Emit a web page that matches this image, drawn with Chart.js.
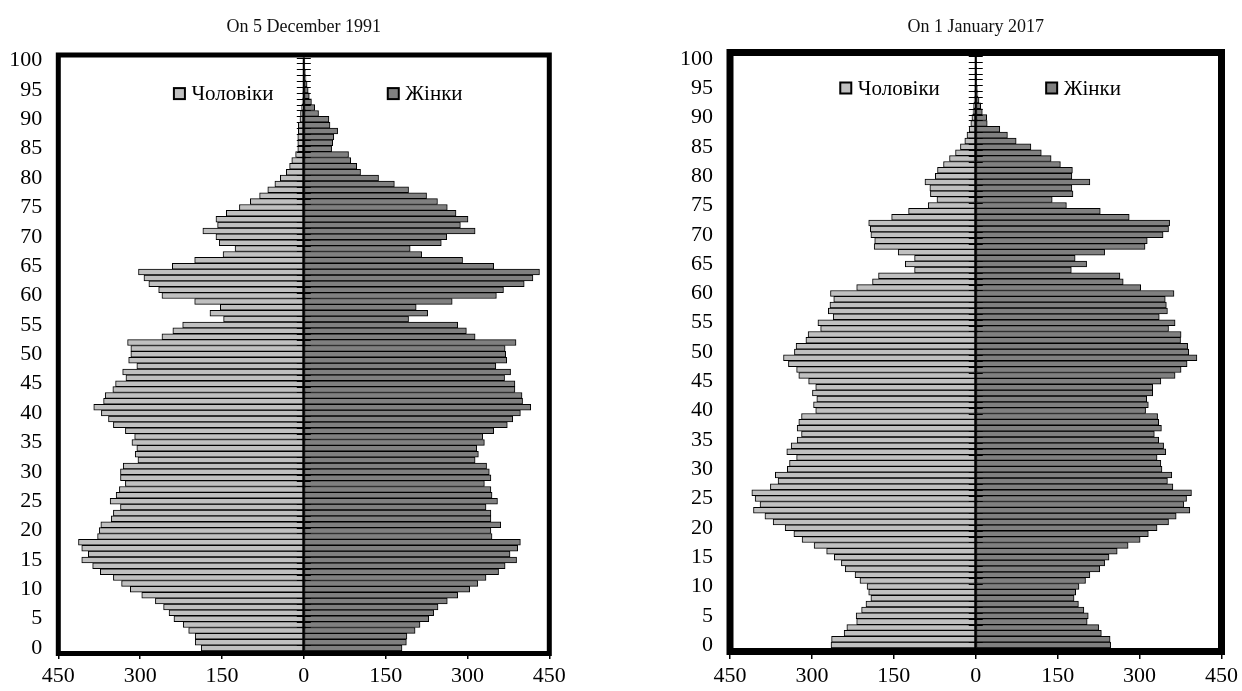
<!DOCTYPE html>
<html>
<head>
<meta charset="utf-8">
<script src="https://cdn.jsdelivr.net/npm/chart.js@4/dist/chart.umd.min.js"></script>
<style>
    html, body { margin: 0; padding: 0; background: #fff; }
    .wrap { position: absolute; top: 0; width: 621px; height: 691px; }
</style>
</head>
<body>
<div class="wrap" style="left:0"><canvas id="pyr1991"></canvas></div>
<div class="wrap" style="left:621px"><canvas id="pyr2017"></canvas></div>
<script>
'use strict';

// age groups, bottom to top
const ages = [0, 1, 2, 3, 4, 5, 6, 7, 8, 9, 10, 11, 12, 13, 14, 15, 16, 17, 18, 19,
    20, 21, 22, 23, 24, 25, 26, 27, 28, 29, 30, 31, 32, 33, 34, 35, 36, 37, 38, 39,
    40, 41, 42, 43, 44, 45, 46, 47, 48, 49, 50, 51, 52, 53, 54, 55, 56, 57, 58, 59,
    60, 61, 62, 63, 64, 65, 66, 67, 68, 69, 70, 71, 72, 73, 74, 75, 76, 77, 78, 79,
    80, 81, 82, 83, 84, 85, 86, 87, 88, 89, 90, 91, 92, 93, 94, 95, 96, 97, 98, 99, 100];
const ageTickLabels = ['0', '5', '10', '15', '20', '25', '30', '35', '40', '45', '50',
    '55', '60', '65', '70', '75', '80', '85', '90', '95', '100'];
const xTickValues = [-450, -300, -150, 0, 150, 300, 450];

// thousands of persons, census 5 December 1991
const men1991 = [188, 199, 199, 211, 221, 238, 247, 257, 272, 297,
    318, 334, 349, 373, 387, 407, 395, 407, 413, 378,
    375, 372, 353, 349, 336, 355, 344, 338, 327, 336,
    336, 331, 304, 309, 306, 315, 310, 327, 349, 358,
    371, 385, 367, 364, 350, 345, 326, 332, 306, 321,
    317, 317, 323, 260, 240, 222, 147, 172, 153, 200,
    260, 266, 284, 293, 303, 241, 200, 148, 126, 155,
    161, 185, 158, 161, 142, 118, 98, 81, 66, 53,
    43, 32, 26, 22, 15, 11, 11, 11, 10, 10,
    7, 6, 4, 3, 2, 2, 1, 1, 1, 1, 1];
const women1991 = [180, 188, 189, 204, 213, 229, 238, 246, 263, 282,
    304, 319, 334, 357, 369, 390, 378, 392, 397, 345,
    343, 361, 343, 343, 334, 355, 345, 343, 331, 343,
    340, 335, 314, 320, 317, 331, 328, 348, 373, 383,
    397, 416, 401, 400, 387, 387, 368, 379, 352, 372,
    370, 369, 389, 314, 298, 282, 192, 227, 206, 272,
    353, 366, 404, 420, 432, 348, 291, 216, 195, 252,
    262, 314, 287, 301, 279, 263, 245, 225, 192, 166,
    137, 104, 97, 86, 82, 51, 53, 55, 62, 48,
    46, 27, 20, 14, 10, 8, 6, 4, 3, 2, 2];

// thousands of persons, 1 January 2017
const men2017 = [265, 264, 241, 236, 218, 219, 209, 201, 192, 196,
    199, 212, 221, 239, 246, 259, 273, 296, 318, 333,
    349, 371, 386, 407, 395, 404, 410, 376, 362, 367,
    345, 341, 328, 346, 338, 327, 319, 327, 324, 319,
    293, 297, 291, 299, 293, 306, 324, 328, 343, 352,
    332, 329, 311, 307, 284, 289, 261, 270, 267, 260,
    266, 218, 189, 178, 112, 129, 112, 142, 186, 185,
    192, 193, 196, 154, 123, 87, 71, 83, 84, 93,
    74, 70, 59, 48, 37, 28, 20, 16, 12, 9,
    7, 5, 4, 3, 2, 2, 1, 1, 1, 1, 1];
const women2017 = [247, 246, 230, 225, 204, 206, 198, 188, 180, 183,
    189, 201, 209, 227, 236, 244, 259, 279, 301, 316,
    332, 353, 367, 392, 381, 386, 395, 361, 351, 359,
    341, 339, 332, 348, 344, 335, 327, 340, 335, 333,
    311, 316, 313, 324, 324, 339, 365, 376, 387, 405,
    390, 388, 375, 376, 353, 365, 336, 351, 349, 347,
    363, 302, 270, 264, 175, 203, 182, 236, 310, 314,
    343, 353, 355, 281, 228, 166, 140, 178, 176, 209,
    176, 177, 155, 138, 120, 101, 74, 58, 44, 21,
    20, 12, 9, 6, 4, 3, 2, 2, 1, 1, 1];

const seriesNames = ['Чоловіки', 'Жінки'];
const seriesColors = ['#c0c0c0', '#808080'];
const serif = '"Liberation Serif", "Times New Roman", serif';

// frame, centre axis with cross ticks and the in-plot legend
const framePlugin = {
    id: 'frame',
    afterDatasetsDraw: function (chart, args, opts) {
        const ctx = chart.ctx;
        const a = chart.chartArea;
        const x = chart.scales.x;
        const y = chart.scales.y;
        const x0 = x.getPixelForValue(0);
        const half = Math.abs(y.getPixelForValue(1) - y.getPixelForValue(0)) / 2;

        ctx.save();
        ctx.strokeStyle = '#000';
        ctx.lineWidth = 2;
        ctx.beginPath();
        ctx.moveTo(x0, a.top);
        ctx.lineTo(x0, a.bottom);
        ctx.stroke();

        ctx.lineWidth = 1;
        ctx.beginPath();
        ages.forEach(function (age, i) {
            const yy = Math.round(y.getPixelForValue(i) - half) + 0.5;
            ctx.moveTo(x0 - 7, yy);
            ctx.lineTo(x0 + 7, yy);
        });
        ctx.stroke();

        // border: sides centred on the axis ends, top and bottom outside the bars
        const w = opts.width;
        ctx.lineWidth = w;
        ctx.beginPath();
        ctx.moveTo(a.left, a.bottom + w / 2);
        ctx.lineTo(a.left, a.top - w / 2);
        ctx.moveTo(a.left - w / 2, a.top - w / 2);
        ctx.lineTo(a.right + w / 2, a.top - w / 2);
        ctx.moveTo(a.right, a.top - w / 2);
        ctx.lineTo(a.right, a.bottom + w / 2);
        ctx.moveTo(a.right + w / 2, a.bottom + w / 2);
        ctx.lineTo(a.left - w / 2, a.bottom + w / 2);
        ctx.stroke();

        // legend
        ctx.font = '21px ' + serif;
        ctx.textBaseline = 'middle';
        ctx.textAlign = 'left';
        const ly = a.top + opts.legendDy;
        chart.data.datasets.forEach(function (ds, i) {
            const lx = x.getPixelForValue(opts.legendAt[i]);
            ctx.fillStyle = ds.backgroundColor;
            ctx.fillRect(lx - 5.5, ly - 5.5, 11, 11);
            ctx.lineWidth = 2;
            ctx.strokeRect(lx - 5.5, ly - 5.5, 11, 11);
            ctx.fillStyle = '#000';
            ctx.fillText(ds.label, lx + 12, ly + 1);
        });
        ctx.restore();
    }
};

function drawPyramid(canvasId, title, men, women, layout) {
    const ctx = document.getElementById(canvasId).getContext('2d');

    new Chart(ctx, {
        type: 'bar',
        data: {
            labels: ages,
            datasets: [{
                label: seriesNames[0],
                data: men.map(function (v) { return -v; }),
                backgroundColor: seriesColors[0],
                borderColor: '#000',
                borderWidth: 1,
                borderSkipped: false,
                barPercentage: 1,
                categoryPercentage: 1
            }, {
                label: seriesNames[1],
                data: women,
                backgroundColor: seriesColors[1],
                borderColor: '#000',
                borderWidth: 1,
                borderSkipped: false,
                barPercentage: 1,
                categoryPercentage: 1
            }]
        },
        options: {
            indexAxis: 'y',
            responsive: true,
            maintainAspectRatio: false,
            animation: false,
            layout: {
                padding: { left: 0, right: layout.padRight, top: 0, bottom: 0 }
            },
            plugins: {
                legend: { display: false },
                tooltip: { enabled: false },
                title: {
                    display: true,
                    text: title,
                    fullSize: false,
                    color: '#111',
                    font: { family: serif, size: 18, weight: 'normal' },
                    padding: { top: 16, bottom: layout.titleGap }
                },
                frame: {
                    width: layout.frameWidth,
                    legendAt: layout.legendAt,
                    legendDy: layout.legendDy
                }
            },
            scales: {
                x: {
                    type: 'linear',
                    stacked: true,
                    min: -450,
                    max: 450,
                    afterBuildTicks: function (scale) {
                        scale.ticks = xTickValues.map(function (v) { return { value: v }; });
                    },
                    afterFit: function (scale) { scale.height = layout.xHeight; },
                    grid: {
                        drawOnChartArea: false,
                        drawTicks: true,
                        tickLength: layout.tickLength,
                        color: '#000',
                        lineWidth: 1.5
                    },
                    border: { display: false },
                    ticks: {
                        padding: 4,
                        color: '#000',
                        maxRotation: 0,
                        font: { family: serif, size: 22 },
                        callback: function (v) { return Math.abs(v); }
                    }
                },
                y: {
                    type: 'category',
                    stacked: true,
                    reverse: true,
                    afterFit: function (scale) { scale.width = layout.yWidth; },
                    grid: { display: false, drawTicks: false },
                    border: { display: false },
                    ticks: {
                        autoSkip: false,
                        padding: layout.labelPad,
                        color: '#000',
                        font: { family: serif, size: 22 },
                        callback: function (v) {
                            const label = String(this.getLabelForValue(v));
                            return ageTickLabels.includes(label) ? label : '';
                        }
                    }
                }
            }
        },
        plugins: [framePlugin]
    });
}

drawPyramid('pyr1991', 'On 5 December 1991', men1991, women1991, {
    padRight: 71.7, yWidth: 58.3, xHeight: 40, titleGap: 20, tickLength: 8,
    labelPad: 16, frameWidth: 5, legendAt: [-228, 164], legendDy: 36
});
drawPyramid('pyr2017', 'On 1 January 2017', men2017, women2017, {
    padRight: 19.5, yWidth: 109, xHeight: 43, titleGap: 18.4, tickLength: 11,
    labelPad: 17, frameWidth: 7, legendAt: [-238, 139], legendDy: 32
});
</script>
</body>
</html>
